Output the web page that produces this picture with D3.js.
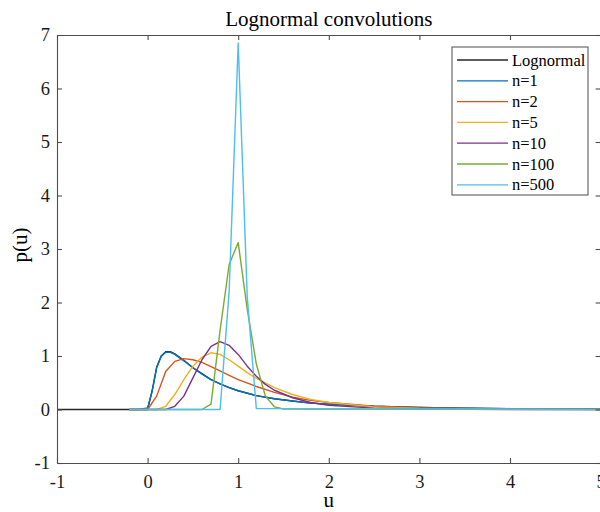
<!DOCTYPE html>
<html>
<head>
<meta charset="utf-8">
<script src="https://cdn.jsdelivr.net/npm/d3@7"></script>
<style>
  body { margin: 0; background: #fff; }
  svg { display: block; }
</style>
</head>
<body>
<div id="chart"></div>
<script>
/**
 * Data
 */

const xTicks = [-1, 0, 1, 2, 3, 4, 5]
const yTicks = [-1, 0, 1, 2, 3, 4, 5, 6, 7]
const seriesNames = ["Lognormal", "n=1", "n=2", "n=5", "n=10", "n=100", "n=500"]
const seriesColors = ["#262626", "#0072BD", "#D95319", "#EDB120", "#7E2F8E", "#77AC30", "#4DBEEE"]

const uLog = [-1, -0.5, 0, 0.05, 0.1, 0.15, 0.2, 0.25, 0.3, 0.4, 0.5, 0.6, 0.7, 0.8, 0.9, 1.0, 1.2, 1.4, 1.6, 1.8, 2.0, 2.5, 3, 3.5, 4, 4.5, 5]
const pLog = [0, 0, 0, 0.35, 0.79, 1.0, 1.08, 1.08, 1.04, 0.92, 0.78, 0.67, 0.56, 0.48, 0.41, 0.35, 0.26, 0.2, 0.16, 0.12, 0.1, 0.06, 0.04, 0.025, 0.017, 0.012, 0.009]

const uN1 = [-0.2, -0.1, 0, 0.05, 0.1, 0.15, 0.2, 0.25, 0.3, 0.4, 0.5, 0.6, 0.7, 0.8, 0.9, 1.0, 1.2, 1.4, 1.6, 1.8, 2.0, 2.5, 3, 3.5, 4, 4.5, 5]
const pN1 = [0, 0, 0.03, 0.34, 0.78, 0.99, 1.07, 1.07, 1.03, 0.91, 0.78, 0.66, 0.56, 0.48, 0.41, 0.35, 0.26, 0.2, 0.16, 0.12, 0.1, 0.06, 0.04, 0.025, 0.017, 0.012, 0.009]

const uN2 = [-0.2, 0, 0.1, 0.2, 0.3, 0.4, 0.5, 0.6, 0.7, 0.8, 0.9, 1.0, 1.2, 1.4, 1.6, 1.8, 2.0, 2.5, 3, 3.5, 4, 4.5, 5]
const pN2 = [0, 0, 0.25, 0.71, 0.9, 0.95, 0.93, 0.88, 0.8, 0.72, 0.64, 0.56, 0.43, 0.32, 0.23, 0.17, 0.13, 0.06, 0.03, 0.018, 0.012, 0.008, 0.005]

const uN5 = [-0.2, 0.1, 0.2, 0.3, 0.4, 0.5, 0.6, 0.7, 0.8, 0.9, 1.0, 1.1, 1.2, 1.4, 1.6, 1.8, 2.0, 2.5, 3, 3.5, 4, 5]
const pN5 = [0, 0, 0.06, 0.28, 0.56, 0.81, 0.98, 1.06, 1.03, 0.93, 0.81, 0.69, 0.58, 0.41, 0.28, 0.19, 0.13, 0.05, 0.02, 0.01, 0.005, 0.002]

const uN10 = [-0.2, 0.2, 0.3, 0.4, 0.5, 0.6, 0.7, 0.8, 0.9, 1.0, 1.1, 1.2, 1.3, 1.4, 1.6, 1.8, 2.0, 2.5, 3, 3.5, 4, 5]
const pN10 = [0, 0, 0.06, 0.25, 0.59, 0.93, 1.18, 1.27, 1.2, 1.03, 0.81, 0.62, 0.47, 0.36, 0.22, 0.13, 0.08, 0.025, 0.008, 0.003, 0.001, 0]

const uN100 = [-0.2, 0.6, 0.7, 0.8, 0.9, 1.0, 1.1, 1.2, 1.3, 1.4, 1.5, 5]
const pN100 = [0, 0, 0.1, 1.48, 2.71, 3.12, 1.87, 0.85, 0.25, 0.05, 0.01, 0]

const uN500 = [-0.2, 0.8, 0.9, 1.0, 1.1, 1.2, 5]
const pN500 = [0, 0, 2.2, 6.85, 2.1, 0.02, 0]

const seriesU = [uLog, uN1, uN2, uN5, uN10, uN100, uN500]
const seriesP = [pLog, pN1, pN2, pN5, pN10, pN100, pN500]

/**
 * Sizes
 */

const W = 600, H = 512
const margin = { top: 35, left: 57 }
const sizes = { width: 543.6, height: 428 }
const serif = "'Times New Roman', 'Liberation Serif', 'DejaVu Serif', serif"

const svg = d3.select("#chart")
    .append("svg")
        .attr("width", W)
        .attr("height", H)
        .style("font-family", serif)

const g = svg.append("g")
    .attr("transform", "translate(" + margin.left + "," + margin.top + ")")

const x = d3.scaleLinear().domain([-1, 5]).range([0, sizes.width])
const y = d3.scaleLinear().domain([-1, 7]).range([sizes.height, 0])

// Lines
const line = d3.line()
    .x(d => x(d[0]))
    .y(d => y(d[1]))

seriesNames.forEach((name, i) => {
    const pts = seriesU[i].map((u, k) => [u, seriesP[i][k]])
    g.append("path")
        .datum(pts)
        .attr("fill", "none")
        .attr("stroke", seriesColors[i])
        .attr("stroke-width", 1.4)
        .attr("stroke-linejoin", "round")
        .attr("d", line)
})

// Axes (box with inward ticks)
const axisColor = "#4d4d4d"

const xAxis = g.append("g")
    .attr("transform", "translate(0," + sizes.height + ")")
    .call(d3.axisBottom(x).tickValues(xTicks).tickSizeInner(-5).tickSizeOuter(0).tickPadding(12).tickFormat(d3.format("d")))

const xTop = g.append("g")
    .call(d3.axisTop(x).tickValues(xTicks).tickSizeInner(-5).tickSizeOuter(0).tickFormat(""))

const yAxis = g.append("g")
    .call(d3.axisLeft(y).tickValues(yTicks).tickSizeInner(-5).tickSizeOuter(0).tickPadding(7).tickFormat(d3.format("d")))

const yRight = g.append("g")
    .attr("transform", "translate(" + sizes.width + ",0)")
    .call(d3.axisRight(y).tickValues(yTicks).tickSizeInner(-5).tickSizeOuter(0).tickFormat(""))

;[xAxis, xTop, yAxis, yRight].forEach(a => {
    a.attr("font-family", serif)
    a.selectAll("path, line").attr("stroke", axisColor).attr("stroke-width", 1.1)
    a.selectAll("text")
        .attr("fill", "#1a1a1a")
        .style("font-family", serif)
        .style("font-size", "18.5px")
})
xAxis.selectAll("text").text(d => d < 0 ? "-" + Math.abs(d) : d)
yAxis.selectAll("text").text(d => d < 0 ? "-" + Math.abs(d) : d)

// Title and axis labels
svg.append("text")
    .attr("x", margin.left + sizes.width / 2)
    .attr("y", 26)
    .attr("text-anchor", "middle")
    .style("font-family", serif)
    .style("font-size", "21px")
    .attr("fill", "#000")
    .text("Lognormal convolutions")

svg.append("text")
    .attr("x", margin.left + sizes.width / 2)
    .attr("y", 507)
    .attr("text-anchor", "middle")
    .style("font-family", serif)
    .style("font-size", "21px")
    .attr("fill", "#000")
    .text("u")

svg.append("text")
    .attr("transform", "translate(27,245) rotate(-90)")
    .attr("text-anchor", "middle")
    .style("font-family", serif)
    .style("font-size", "21px")
    .attr("fill", "#000")
    .text("p(u)")

// Legend
const legend = svg.append("g").attr("transform", "translate(452,47)")
legend.append("rect")
    .attr("width", 136)
    .attr("height", 148)
    .attr("fill", "#fff")
    .attr("stroke", axisColor)
    .attr("stroke-width", 1)

seriesNames.forEach((name, i) => {
    const ly = 13 + i * 20.8
    legend.append("line")
        .attr("x1", 5).attr("x2", 56)
        .attr("y1", ly).attr("y2", ly)
        .attr("stroke", seriesColors[i])
        .attr("stroke-width", 1.3)
    legend.append("text")
        .attr("x", 60)
        .attr("y", ly + 5.5)
        .style("font-family", serif)
        .style("font-size", "16.5px")
        .attr("fill", "#000")
        .text(name)
})
</script>
</body>
</html>
